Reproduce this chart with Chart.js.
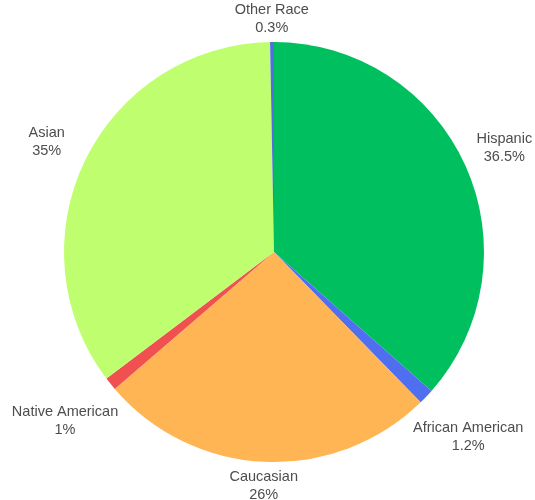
<!DOCTYPE html>
<html>
<head>
<meta charset="utf-8">
<script src="https://cdn.jsdelivr.net/npm/chart.js@4/dist/chart.umd.min.js"></script>
<style>
  body { margin: 0; background: #fff; }
  canvas { display: block; }
</style>
</head>
<body>
<canvas id="raceChart" width="535" height="500"></canvas>
<script>
var groups = ['Hispanic', 'African American', 'Caucasian', 'Native American', 'Asian', 'Other Race'];
var shares = [36.5, 1.2, 26, 1, 35, 0.3];
var sliceColors = ['#00bf5f', '#4f6ff0', '#ffb554', '#f0504f', '#bfff6f', '#5070e0'];

// two-line labels (name + percent) set just outside each slice
var outsideLabels = {
    id: 'outsideLabels',
    afterDatasetsDraw: function(chart) {
        var ctx = chart.ctx;
        var meta = chart.getDatasetMeta(0);
        var fontSize = 14.5, lineGap = 18, gap = 7, minBox = 64;
        ctx.save();
        ctx.font = fontSize + 'px "Liberation Sans", Arial, sans-serif';
        ctx.fillStyle = '#4d4d4d';
        ctx.textAlign = 'center';
        ctx.textBaseline = 'middle';
        meta.data.forEach(function(arc, i) {
            var p = arc.getProps(['x', 'y', 'startAngle', 'endAngle', 'outerRadius'], true);
            var mid = (p.startAngle + p.endAngle) / 2;
            var lines = [groups[i], shares[i] + '%'];
            var w = Math.max(ctx.measureText(lines[0]).width, ctx.measureText(lines[1]).width, minBox);
            var h = lineGap + 14;
            var cos = Math.cos(mid), sin = Math.sin(mid);
            // distance from the centre to the box edge along the slice's mid angle
            var reach = Math.abs(cos) * w / 2 + Math.abs(sin) * h / 2;
            var d = p.outerRadius + gap + reach;
            var cx = p.x + cos * d;
            var cy = p.y + sin * d;
            ctx.fillText(lines[0], cx, cy - lineGap / 2);
            ctx.fillText(lines[1], cx, cy + lineGap / 2);
        });
        ctx.restore();
    }
};

new Chart(document.getElementById('raceChart').getContext('2d'), {
    type: 'pie',
    data: {
        labels: groups,
        datasets: [{
            data: shares,
            backgroundColor: sliceColors,
            borderWidth: 0
        }]
    },
    options: {
        responsive: false,
        animation: false,
        layout: {
            padding: { left: 64, right: 51, top: 42, bottom: 38 }
        },
        plugins: {
            legend: { display: false },
            tooltip: { enabled: false }
        }
    },
    plugins: [outsideLabels]
});
</script>
</body>
</html>
